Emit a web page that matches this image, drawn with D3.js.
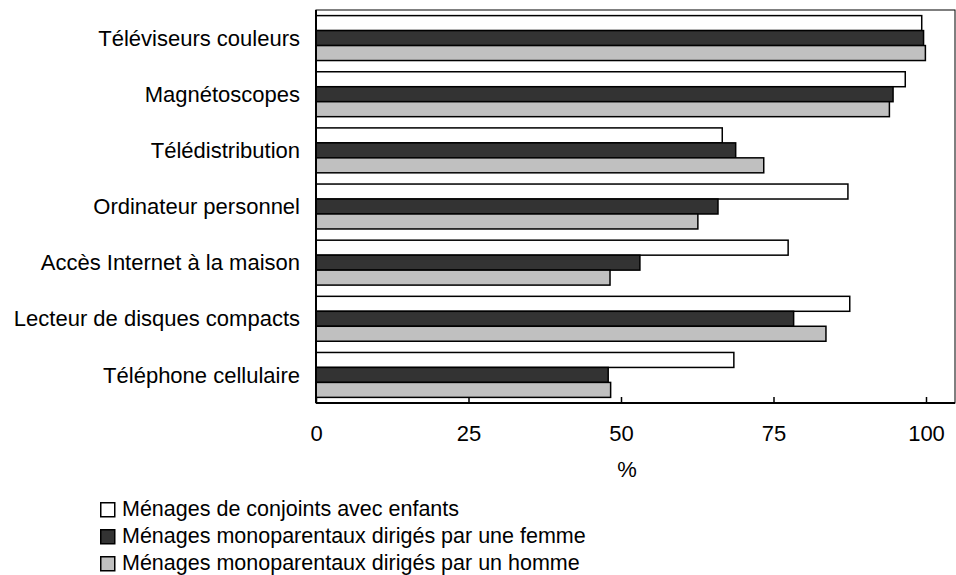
<!DOCTYPE html>
<html>
<head>
<meta charset="utf-8">
<script src="https://cdn.jsdelivr.net/npm/d3@7"></script>
<style>
  body { margin: 0; background: #fff; }
  svg { display: block; font-family: Arial, "Liberation Sans", sans-serif; }
</style>
</head>
<body>
<script>
const categories = [
    "Téléviseurs couleurs",
    "Magnétoscopes",
    "Télédistribution",
    "Ordinateur personnel",
    "Accès Internet à la maison",
    "Lecteur de disques compacts",
    "Téléphone cellulaire"
];

const seriesNames = [
    "Ménages de conjoints avec enfants",
    "Ménages monoparentaux dirigés par une femme",
    "Ménages monoparentaux dirigés par un homme"
];

const couples = [99.3, 96.6, 66.6, 87.2, 77.4, 87.5, 68.5];
const singleMothers = [99.6, 94.6, 68.8, 65.9, 53.1, 78.3, 47.9];
const singleFathers = [99.9, 94.0, 73.4, 62.6, 48.2, 83.6, 48.3];

const xTicks = [0, 25, 50, 75, 100];

const colors = ["#ffffff", "#333333", "#c0c0c0"];

function main() {
    const width = 956;
    const height = 575;

    const plot = { left: 316, right: 955, top: 10, bottom: 403 };

    const series = [couples, singleMothers, singleFathers];

    const svg = d3.select("body").append("svg")
        .attr("width", width)
        .attr("height", height)
        .style("font-size", "22px");

    const x = d3.scaleLinear().domain([0, 100]).range([plot.left, 926]);

    const y = d3.scaleBand()
        .domain(categories)
        .range([plot.top, plot.bottom])
        .paddingInner(0.2)
        .paddingOuter(0.1);

    const ySub = d3.scaleBand()
        .domain(d3.range(series.length))
        .range([0, y.bandwidth()]);

    // frame
    svg.append("rect")
        .attr("x", plot.left)
        .attr("y", plot.top)
        .attr("width", plot.right - plot.left)
        .attr("height", plot.bottom - plot.top)
        .attr("fill", "none")
        .attr("stroke", "#000")
        .attr("stroke-width", 1);

    const groups = svg.append("g")
        .selectAll("g")
        .data(categories)
        .join("g")
        .attr("transform", d => `translate(0,${y(d)})`);

    groups.selectAll("rect")
        .data((d, i) => series.map((s, j) => ({ j, v: s[i] })))
        .join("rect")
        .attr("x", x(0))
        .attr("y", d => ySub(d.j))
        .attr("width", d => x(d.v) - x(0))
        .attr("height", ySub.bandwidth())
        .attr("fill", d => colors[d.j])
        .attr("stroke", "#000")
        .attr("stroke-width", 1.5);

    // category labels
    svg.append("g")
        .selectAll("text")
        .data(categories)
        .join("text")
        .attr("x", 300)
        .attr("y", d => y(d) + y.bandwidth() / 2)
        .attr("dy", "0.35em")
        .attr("text-anchor", "end")
        .attr("fill", "#000")
        .text(d => d);

    // x axis, ticks pointing inward
    const xAxis = svg.append("g")
        .attr("transform", `translate(0,${plot.bottom})`)
        .call(d3.axisBottom(x).tickValues(xTicks).tickSize(-6).tickFormat(d3.format("d")))
        .attr("font-family", null)
        .attr("font-size", null);

    xAxis.select(".domain").remove();
    xAxis.selectAll(".tick line").attr("stroke", "#000").attr("stroke-width", 1.5);
    xAxis.selectAll(".tick text")
        .attr("fill", "#000")
        .attr("y", 38)
        .attr("dy", null);

    svg.append("line")
        .attr("x1", plot.left).attr("x2", plot.right)
        .attr("y1", plot.bottom).attr("y2", plot.bottom)
        .attr("stroke", "#000").attr("stroke-width", 2);

    svg.append("line")
        .attr("x1", plot.left).attr("x2", plot.left)
        .attr("y1", plot.top).attr("y2", plot.bottom)
        .attr("stroke", "#000").attr("stroke-width", 2);

    svg.append("text")
        .attr("x", x(50) + 6)
        .attr("y", 477)
        .attr("text-anchor", "middle")
        .text("%");

    // legend
    const legend = svg.append("g")
        .style("font-size", "21.5px")
        .selectAll("g")
        .data(seriesNames)
        .join("g")
        .attr("transform", (d, i) => `translate(100,${502 + i * 27})`);

    legend.append("rect")
        .attr("x", 0.75)
        .attr("y", 0.75)
        .attr("width", 14)
        .attr("height", 14)
        .attr("fill", (d, i) => colors[i])
        .attr("stroke", "#000")
        .attr("stroke-width", 1.5);

    legend.append("text")
        .attr("x", 22)
        .attr("y", 14)
        .attr("fill", "#000")
        .text(d => d);
}

addEventListener("DOMContentLoaded", main);
</script>
</body>
</html>
